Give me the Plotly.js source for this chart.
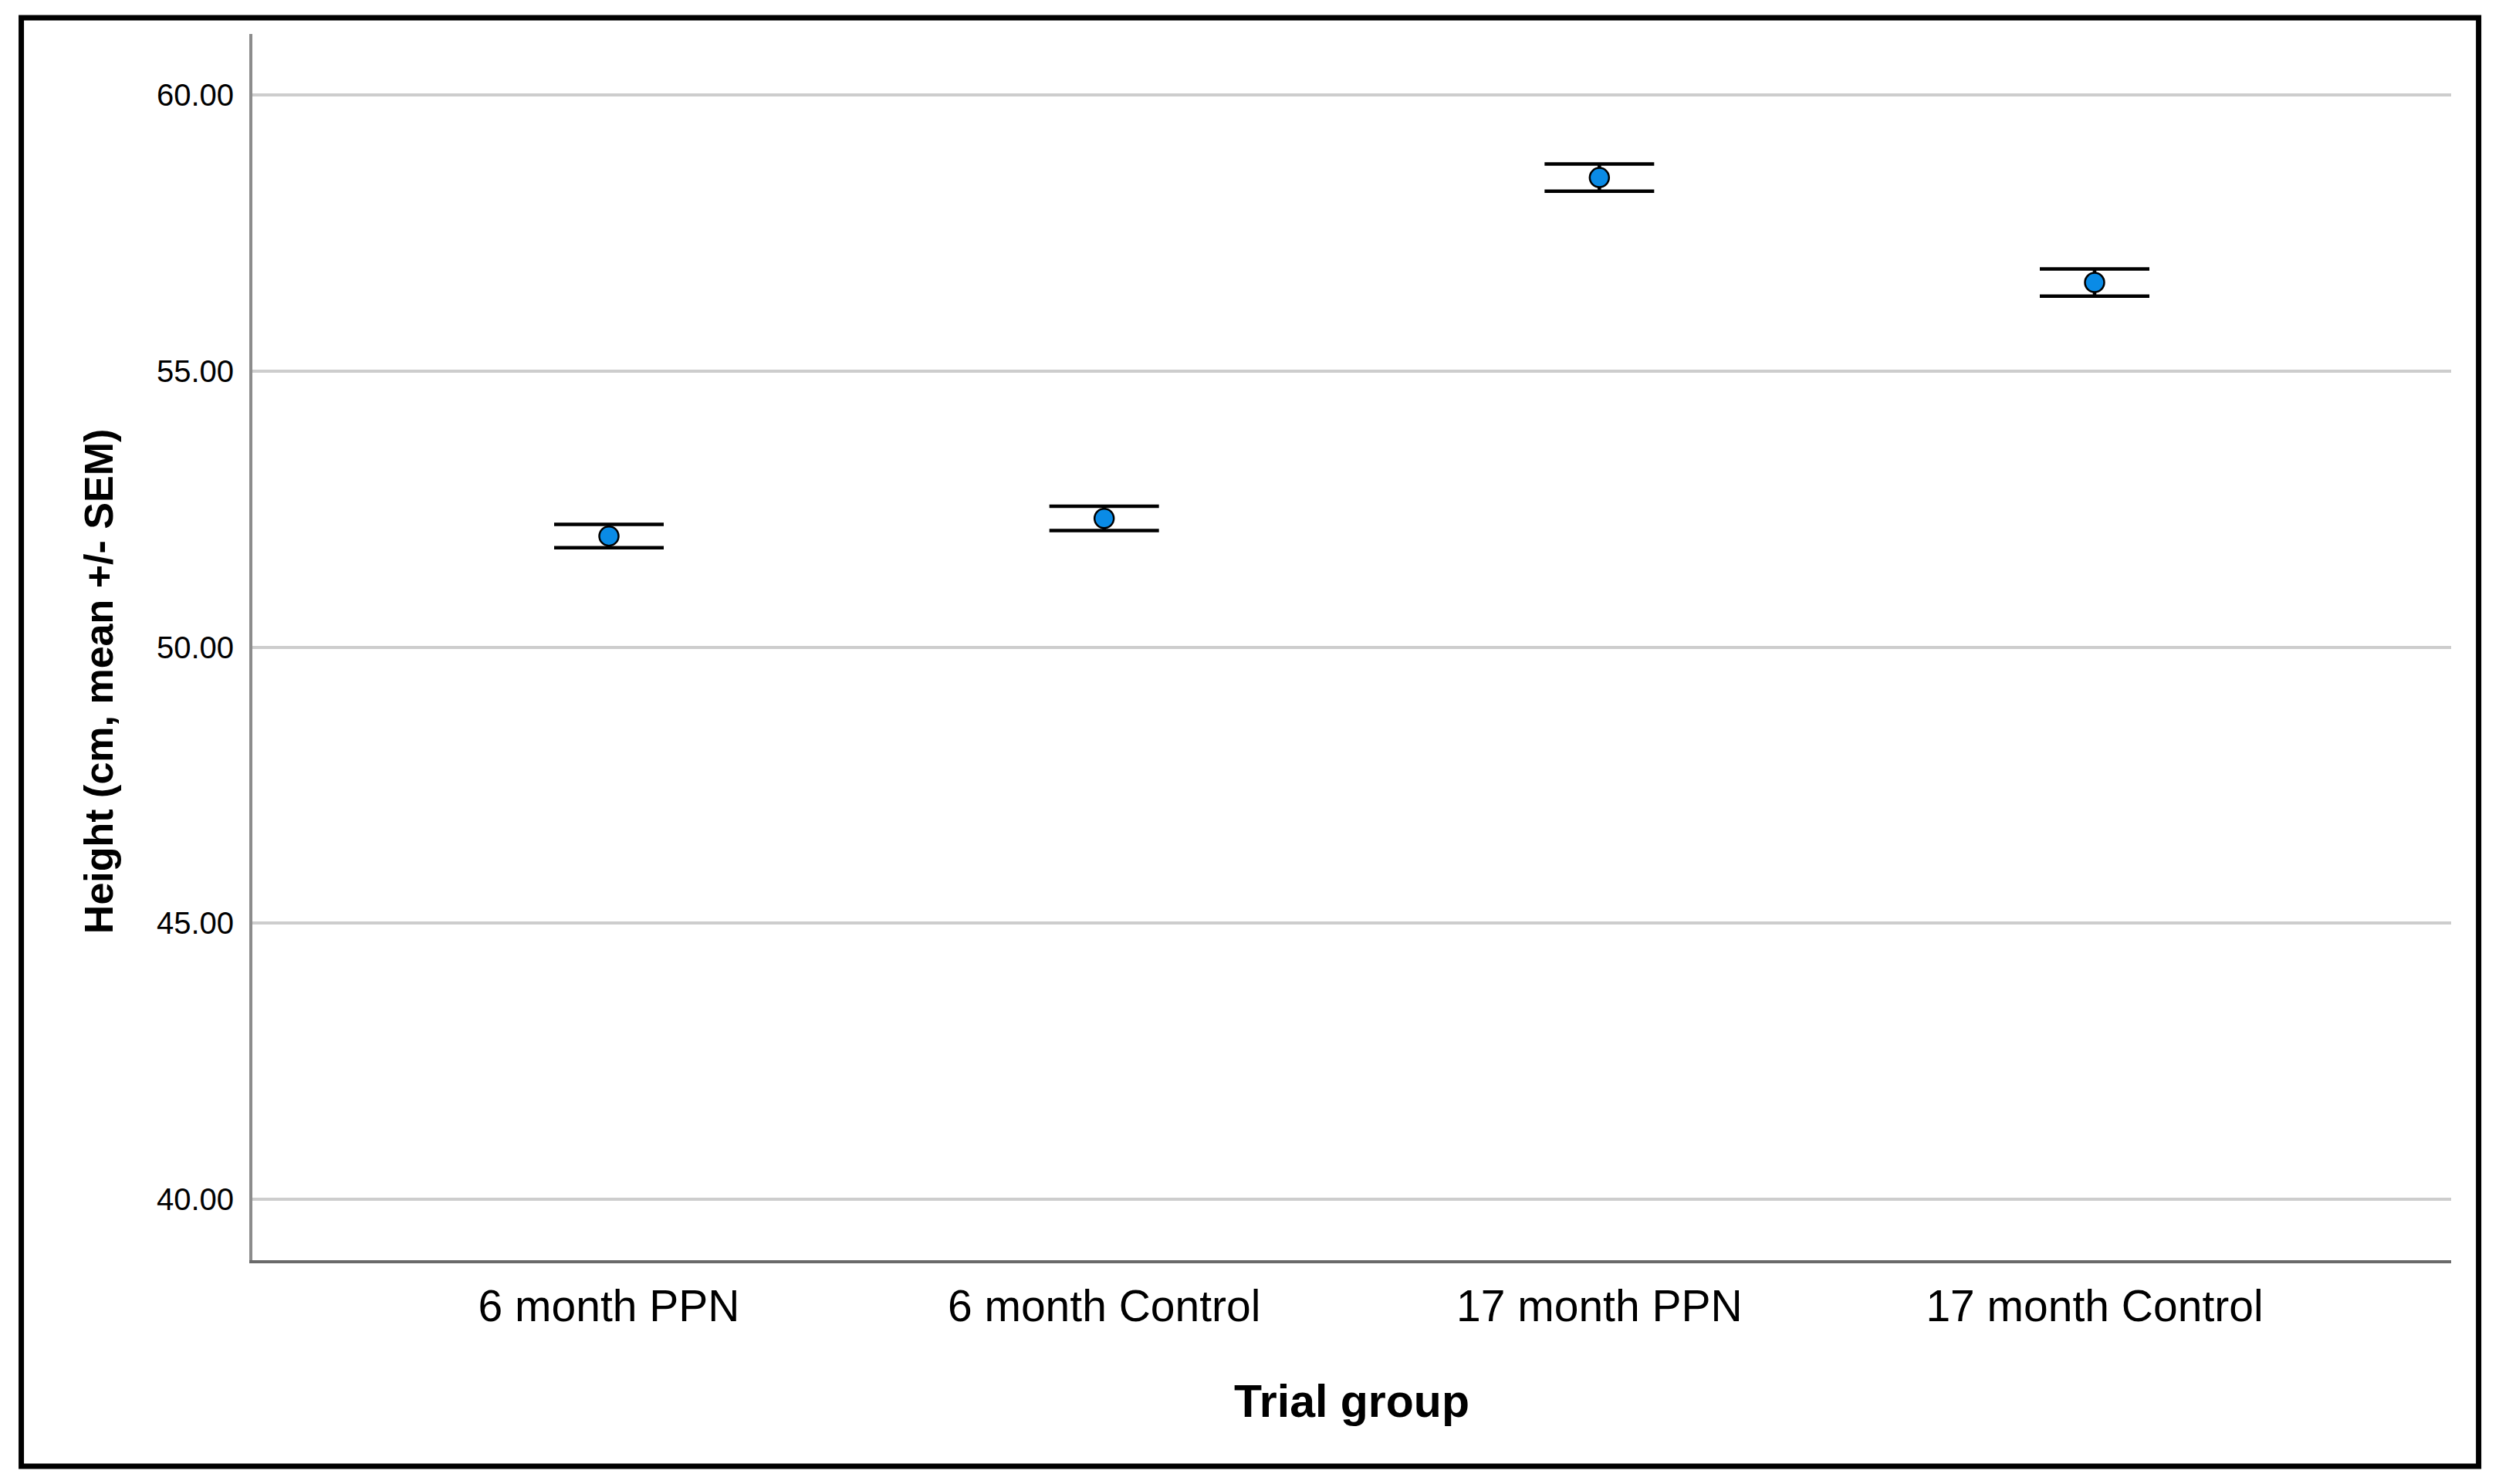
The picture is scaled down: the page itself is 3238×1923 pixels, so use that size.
<!DOCTYPE html>
<html>
<head>
<meta charset="utf-8">
<script src="https://cdn.plot.ly/plotly-3.0.1.min.js"></script>
<style>
  html, body { margin: 0; padding: 0; background: #ffffff; }
  #chart { width: 3238px; height: 1923px; }
</style>
</head>
<body>
<div id="chart"></div>
<script>
// Data
var categories = ["6 month PPN", "6 month Control", "17 month PPN", "17 month Control"];
var meanHeight = [52.01, 52.33, 58.50, 56.60];
var semHeight = [0.21, 0.22, 0.245, 0.245];
var yTickValues = [40, 45, 50, 55, 60];
var xTitle = "Trial group";
var yTitle = "Height (cm, mean +/- SEM)";

var xIndex = categories.map(function (c, i) { return i; });

var trace = {
  type: "scatter",
  mode: "markers",
  x: xIndex,
  y: meanHeight,
  error_y: {
    type: "data",
    array: semHeight,
    visible: true,
    color: "#000000",
    thickness: 4.5,
    width: 71
  },
  marker: {
    size: 25,
    color: "#0a8be6",
    line: { color: "#000000", width: 2.5 }
  },
  hoverinfo: "skip",
  showlegend: false
};

var fontFamily = "Liberation Sans, Arial, sans-serif";

var layout = {
  width: 3238,
  height: 1923,
  paper_bgcolor: "#ffffff",
  plot_bgcolor: "#ffffff",
  margin: { l: 327, r: 62, t: 44, b: 290, pad: 0 },
  showlegend: false,
  font: { family: fontFamily, color: "#000000" },
  xaxis: {
    type: "linear",
    range: [-0.72, 3.72],
    tickmode: "array",
    tickvals: xIndex,
    ticktext: categories,
    showgrid: false,
    zeroline: false,
    showline: true,
    linecolor: "#6a6a6a",
    linewidth: 4,
    ticks: "",
    ticklabelstandoff: 7,
    tickfont: { family: fontFamily, size: 57, color: "#000000" },
    title: {
      text: xTitle,
      font: { family: fontFamily, size: 59, color: "#000000", weight: "bold" },
      standoff: 72
    },
    automargin: false,
    fixedrange: true
  },
  yaxis: {
    range: [38.9, 61.1],
    tickmode: "array",
    tickvals: yTickValues,
    tickformat: ".2f",
    showgrid: true,
    gridcolor: "#cdcdcd",
    gridwidth: 4,
    zeroline: false,
    showline: true,
    linecolor: "#8c8c8c",
    linewidth: 4,
    ticks: "",
    ticklabelstandoff: 12,
    tickfont: { family: fontFamily, size: 40, color: "#000000" },
    automargin: false,
    fixedrange: true
  },
  annotations: [
    {
      text: "<b>" + yTitle + "</b>",
      xref: "paper",
      yref: "paper",
      x: -0.0698,
      y: 0.472,
      xanchor: "center",
      yanchor: "middle",
      textangle: -90,
      showarrow: false,
      font: { family: fontFamily, size: 52, color: "#000000" }
    }
  ],
  shapes: [
    {
      type: "rect",
      xref: "paper",
      yref: "paper",
      x0: -0.1051,
      x1: 1.0125,
      y0: -0.168,
      y1: 1.0132,
      line: { color: "#000000", width: 7 },
      fillcolor: "rgba(0,0,0,0)",
      layer: "above"
    }
  ]
};

Plotly.newPlot("chart", [trace], layout, { displayModeBar: false, staticPlot: true });
</script>
</body>
</html>
